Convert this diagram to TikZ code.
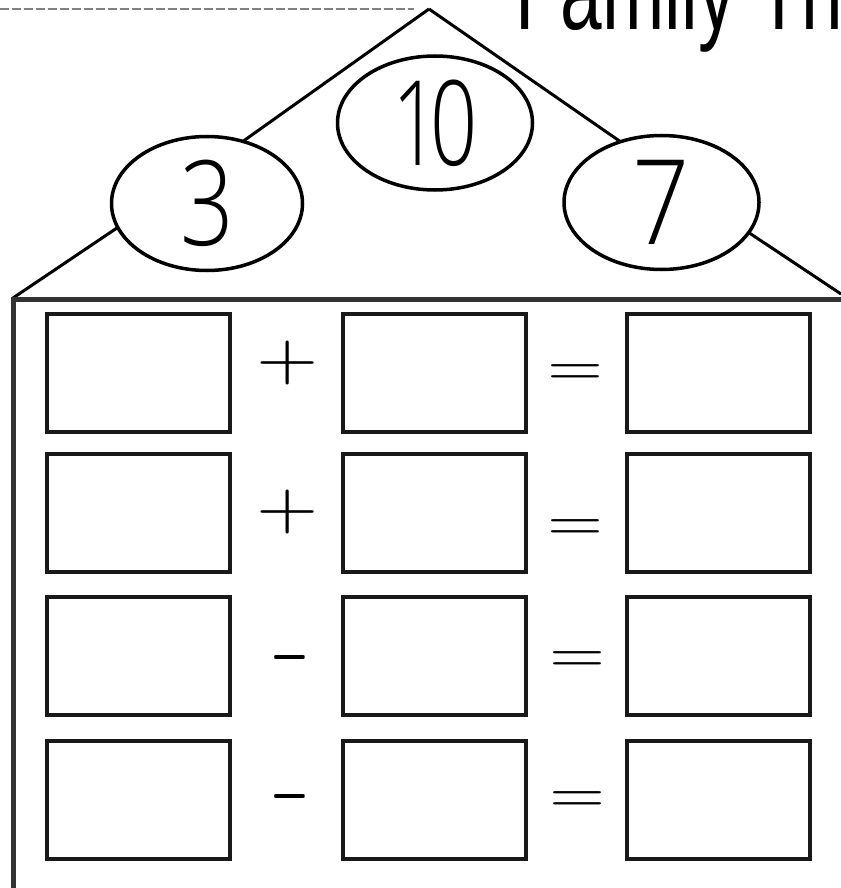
\documentclass[tikz,border=0pt]{standalone}
\usepackage[no-math]{fontspec}
\newfontfamily\hand{Liberation Sans}
\IfFontExistsTF{Open Sans Light}
  {\newfontfamily\digitfont{Open Sans Light}}
  {\IfFontExistsTF{Noto Sans Light}
     {\newfontfamily\digitfont{Noto Sans Light}}
     {\newfontfamily\digitfont{Liberation Sans}}}
\usetikzlibrary{shapes.geometric}
\begin{document}
\begin{tikzpicture}[x=1pt,y=-1pt,
  cell/.style={draw=black!90, line width=4pt, rectangle, minimum width=183pt, minimum height=118pt, inner sep=0pt, outer sep=0pt},
  oval/.style={draw=black, line width=3.5pt, ellipse, inner sep=0pt, outer sep=0pt, font=\digitfont\fontsize{118}{118}\selectfont},
  roof/.style={line width=3pt, black},
  frameline/.style={line width=5pt, black!80},
  op/.style={inner sep=0pt, outer sep=0pt},
  dashline/.style={gray, line width=1.5pt, dash pattern=on 9pt off 3pt}]
\useasboundingbox (0,0) rectangle (840,888);
\fill[white] (0,0) rectangle (840,888);
% title (cut off at the top, as in the reference)
\begin{scope}
\clip (0,0) rectangle (840,888);
\node[anchor=base west, inner sep=0pt] (title) at (515,30) {\hand\fontsize{110}{110}\selectfont\scalebox{0.68}[1]{Family Th}};
\end{scope}
% dashed line
\coordinate (dashL) at (0,9);
\coordinate (dashR) at (414,9);
\draw[dashline] (dashL) -- (dashR);
% roof
\coordinate (apex) at (429,9);
\coordinate (cornerL) at (13,298);
\coordinate (cornerR) at (841,294);
\node[oval, minimum width=191pt, minimum height=134pt] (three) at (207,203.5) {\scalebox{0.8}[1]{3}};
\node[oval, minimum width=195pt, minimum height=134pt] (seven) at (661.5,202.5) {\scalebox{0.85}[1]{7}};
\node[oval, minimum width=195pt, minimum height=134pt] (ten) at (435,123) {\scalebox{0.7}[1]{1\kern-14pt 0}};
\draw[roof] (apex) -- (three.60);
\draw[roof] (three.195) -- (cornerL);
\draw[roof] (apex) -- (seven.124);
\draw[roof] (seven.341) -- (cornerR);
% house frame
\coordinate (frameTL) at (13,299);
\coordinate (frameTR) at (842,299);
\coordinate (frameBL) at (13,890);
\draw[frameline] (frameTR) -- (frameTL) -- (frameBL);
% boxes
\foreach \r/\y in {1/373,2/513,3/656,4/800}{
  \foreach \c/\x in {1/138,2/434.5,3/718}{
    \node[cell] (b\r\c) at (\x,\y) {};
  }
}
% operators
\node[op] (p1) at (288,363) {\scalebox{8}[6.6]{$+$}};
\node[op] (p2) at (288,512) {\scalebox{8}[6.6]{$+$}};
\node[op] (m3) at (290,657) {\scalebox{5}[10]{$-$}};
\node[op] (m4) at (290,796) {\scalebox{5}[10]{$-$}};
\node[op] (e1) at (575,375) {\scalebox{7.2}[5.7]{$=$}};
\node[op] (e2) at (575,530) {\scalebox{7.2}[5.7]{$=$}};
\node[op] (e3) at (577,662) {\scalebox{7.2}[5.7]{$=$}};
\node[op] (e4) at (577,802) {\scalebox{7.2}[5.7]{$=$}};
\end{tikzpicture}
\end{document}
